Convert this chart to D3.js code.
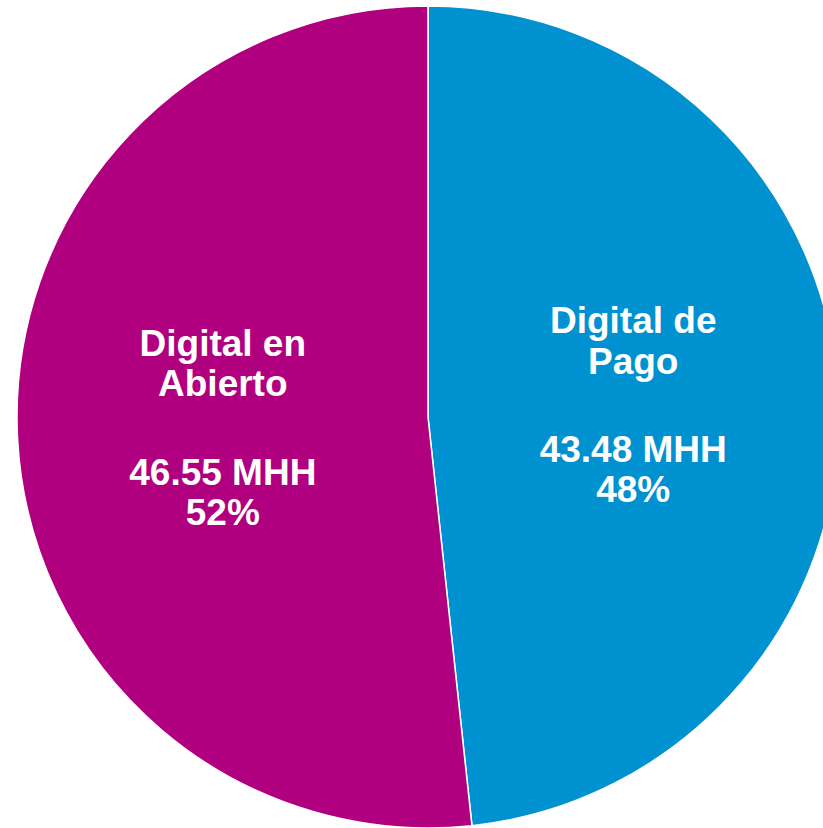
<!DOCTYPE html>
<meta charset="utf-8">
<script src="https://d3js.org/d3.v7.min.js"></script>
<style>
  body { margin: 0; background: #fff; }
  .lbl { font-family: 'Liberation Sans', Arial, sans-serif; font-weight: bold; fill: #fff; }
</style>
<div id="chart"></div>
<script>

var names = [["Digital de", "Pago"], ["Digital en", "Abierto"]];
var values = [43.48, 46.55];
var colors = ["#0091d1", "#b0007f"];

var width = 823, height = 828,
    cx = 428, cy = 417, radius = 411;

var svg = d3.select("#chart")
  .append("svg")
    .attr("width", width)
    .attr("height", height)
  .append("g")
    .attr("transform", "translate(" + cx + "," + cy + ")");

var total = d3.sum(values);

var pie = d3.pie().sort(null).value(function(d) { return d; });
var arc = d3.arc().innerRadius(0).outerRadius(radius);

var arcs = pie(values);

svg.selectAll("path")
  .data(arcs)
  .enter()
  .append("path")
    .attr("d", arc)
    .style("fill", function(d, i) { return colors[i]; })
    .style("stroke", "#fff")
    .style("stroke-width", 1.5);

// label block: name (2 lines), blank, value, percent
var offsets = [-72.5, -32, 56.5, 96.5];

var labels = svg.selectAll(".lbl")
  .data(arcs)
  .enter()
  .append("text")
    .attr("class", "lbl")
    .attr("text-anchor", "middle")
    .style("font-size", "37px")
    .attr("transform", function(d) { return "translate(" + arc.centroid(d) + ")"; });

labels.each(function(d, i) {
  var lines = [names[i][0], names[i][1],
               d3.format(".2f")(values[i]) + " MHH",
               Math.round(100 * values[i] / total) + "%"];
  d3.select(this).selectAll("tspan")
    .data(lines)
    .enter()
    .append("tspan")
      .attr("x", 0)
      .attr("y", function(t, j) { return offsets[j]; })
      .text(function(t) { return t; });
});

</script>
